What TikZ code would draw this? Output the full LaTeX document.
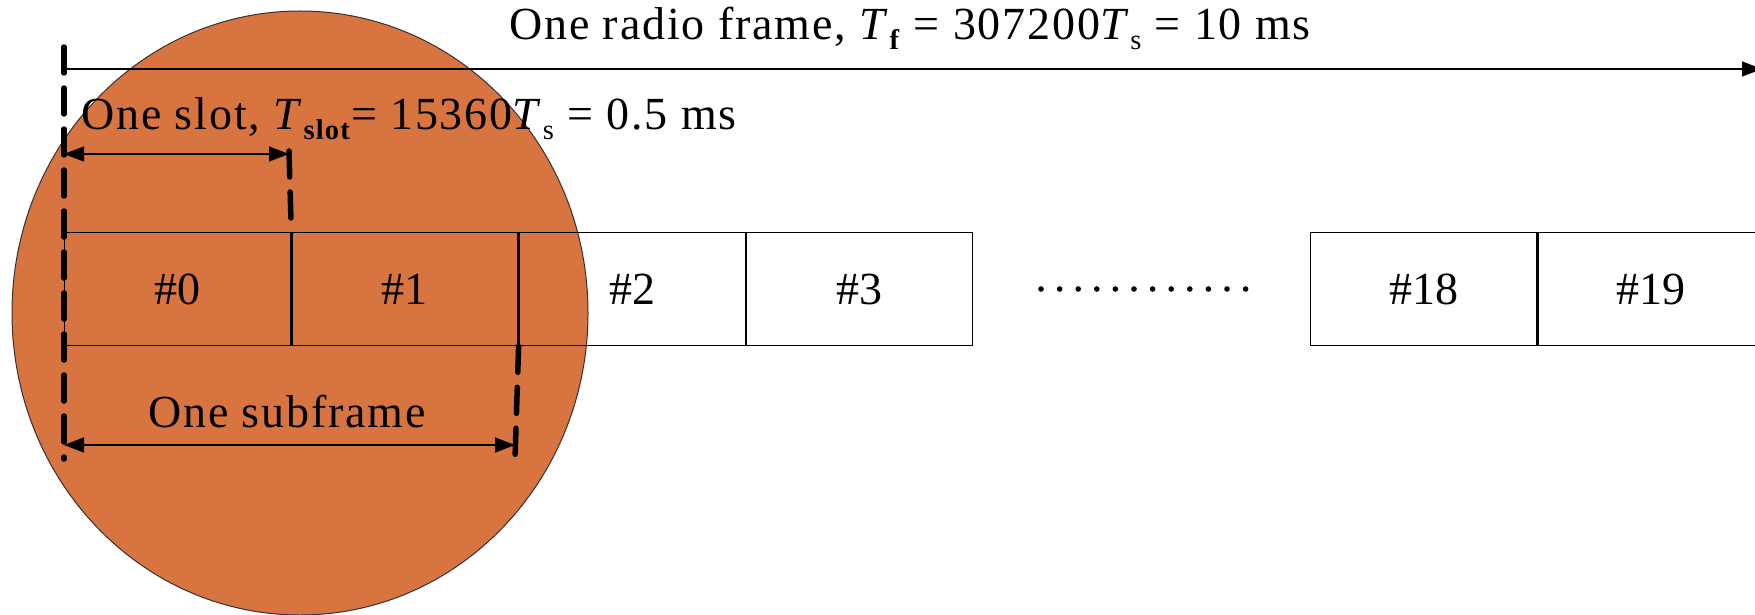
\documentclass[tikz,border=0pt]{standalone}
\usepackage{fontspec}
\setmainfont{Liberation Serif}
\newfontfamily\widefont[LetterSpace=4]{Liberation Serif}
\usetikzlibrary{arrows.meta,shapes.geometric}
\definecolor{disc}{RGB}{216,116,64}
\newcommand\subx[1]{\raisebox{-0.45ex}{\scalebox{0.62}{#1}}}
\begin{document}
\begin{tikzpicture}[x=1pt,y=-1pt,
  dimarrow/.style={line width=1.4pt,{Triangle[length=20pt,width=15pt]}-{Triangle[length=20pt,width=15pt]}},
  onearrow/.style={line width=1.4pt,-{Triangle[length=20pt,width=15pt]}},
  marker/.style={line width=5.5pt, dash pattern=on 26pt off 15pt, line cap=round},
  slotbox/.style={draw, line width=1.3pt, minimum width=226pt, minimum height=113pt, inner sep=0pt, anchor=north west, font=\fontsize{46}{50}\selectfont},
  lbl/.style={font=\widefont\fontsize{46}{50}\selectfont, inner sep=0pt}]
\useasboundingbox (0,0) rectangle (1755,615);
\node[draw=black!80, line width=1pt, fill=disc, ellipse, minimum width=576pt, minimum height=604pt, inner sep=0pt] (disk) at (300,313) {};
% slot boxes
\node[slotbox] (s0) at (64,232) {\#0};
\node[slotbox] (s1) at (s0.north east) {\#1};
\node[slotbox] (s2) at (s1.north east) {\#2};
\node[slotbox] (s3) at (s2.north east) {\#3};
\node[slotbox] (s18) at (1310,232) {\#18};
\node[slotbox] (s19) at (s18.north east) {\#19};
% dots
\foreach \i in {0,...,11} \fill (1041+\i*18.6,289) circle (2.8pt);
% coordinates
\coordinate (L0) at (64,47);
\coordinate (L1) at (64,459);
\coordinate (S0) at (289,151);
\coordinate (F0) at (515,459);
\coordinate (R) at (1762,69);
% markers
\draw[marker] (L0) -- (L1);
\draw[marker] (S0) -- (s0.north east);
\draw[marker] (s1.south east) -- (F0);
% arrows
\draw[onearrow] (L0 |- R) -- (R);
\draw[dimarrow] (64,154) -- (S0 |- 0,154);
\draw[dimarrow] (64,445) -- (F0 |- 0,445);
% labels
\node[lbl, anchor=base] (tf) at (910,40) {One radio frame, \textit{T}\subx{\textbf{f}} = 307200\textit{T}\subx{s} = 10 ms};
\node[lbl, anchor=base west] (ts) at (81,130) {One slot, \textit{T}\subx{\textbf{slot}}= 15360\textit{T}\subx{s} = 0.5 ms};
\node[lbl, anchor=base] (sf) at (287,427) {One subframe};
\end{tikzpicture}
\end{document}
